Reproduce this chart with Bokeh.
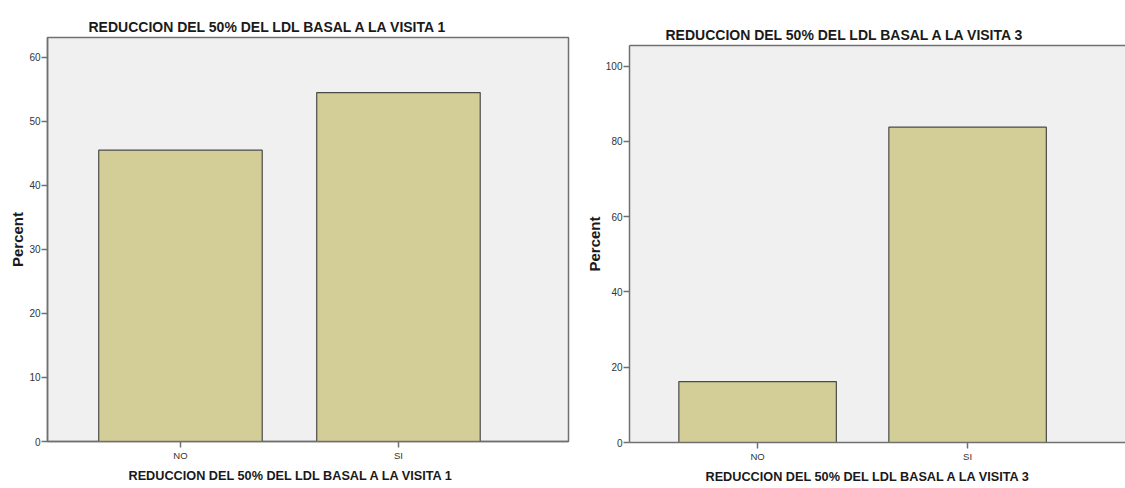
from bokeh.plotting import figure
from bokeh.models import Range1d, FixedTicker, Title, LinearAxis
from bokeh.layouts import row
from bokeh.embed import file_html
from bokeh.resources import INLINE

# ---- data ----
categories = ["NO", "SI"]
visit1_percent = [45.5, 54.5]
visit3_percent = [16.2, 83.8]
visit1_title = "REDUCCION DEL 50% DEL LDL BASAL A LA VISITA 1"
visit3_title = "REDUCCION DEL 50% DEL LDL BASAL A LA VISITA 3"
visit1_yticks = [0, 10, 20, 30, 40, 50, 60]
visit3_yticks = [0, 20, 40, 60, 80, 100]
y_label = "Percent"

FONT = "Liberation Sans"
BAR_FILL = "#D3CE97"
BAR_LINE = "#4a4a48"
FRAME_BG = "#F0F0F0"
AXIS_COL = "#707070"


def make_chart(values, title, yticks, y_end, x_start, x_end, width, height,
               bl, br, bt, bb, title_offset, xlabel_offset, top_axis):
    xs = list(range(1, len(categories) + 1))
    p = figure(width=width, height=height,
               x_range=Range1d(x_start, x_end), y_range=Range1d(0, y_end),
               output_backend="svg", toolbar_location=None,
               min_border_left=bl, min_border_right=br,
               min_border_top=bt, min_border_bottom=bb)
    p.frame_align = False
    p.background_fill_color = FRAME_BG
    p.border_fill_color = "white"
    p.xgrid.visible = False
    p.ygrid.visible = False

    p.vbar(x=xs, top=values, width=0.75, bottom=0,
           fill_color=BAR_FILL, line_color=BAR_LINE, line_width=1.2)

    # title
    p.title.text = title
    p.title.align = "left"
    p.title.offset = title_offset
    p.title.text_font = FONT
    p.title.text_font_size = "14px"
    p.title.text_font_style = "bold"
    p.title.text_color = "#1a1a1a"
    p.title.standoff = 5

    # x axis
    xa = p.xaxis[0]
    xa.ticker = FixedTicker(ticks=xs)
    xa.major_label_overrides = {x: c for x, c in zip(xs, categories)}
    xa.minor_tick_line_color = None
    xa.major_tick_out = 6
    xa.major_tick_in = 0
    xa.major_label_standoff = 2
    xa.major_label_text_font = FONT
    xa.major_label_text_font_size = "9.5px"
    xa.major_label_text_color = "#333333"
    xa.axis_line_color = AXIS_COL
    xa.axis_line_width = 1.5
    xa.major_tick_line_color = AXIS_COL
    xa.major_tick_line_width = 1.5

    # x label as title below
    xl = Title(text=title, align="left", offset=xlabel_offset,
               text_font=FONT, text_font_size="12.7px",
               text_font_style="bold", text_color="#1a1a1a", standoff=6)
    p.add_layout(xl, "below")

    # y axis
    ya = p.yaxis[0]
    ya.ticker = FixedTicker(ticks=yticks)
    ya.minor_tick_line_color = None
    ya.major_tick_out = 6
    ya.major_tick_in = 0
    ya.major_label_standoff = 1
    ya.major_label_text_font = FONT
    ya.major_label_text_font_size = "10px"
    ya.major_label_text_color = "#333333"
    ya.axis_line_color = AXIS_COL
    ya.axis_line_width = 1.5
    ya.major_tick_line_color = AXIS_COL
    ya.major_tick_line_width = 1.5
    ya.axis_label = y_label
    ya.axis_label_text_font = FONT
    ya.axis_label_text_font_size = "15px"
    ya.axis_label_text_font_style = "bold"
    ya.axis_label_text_color = "#1a1a1a"
    ya.axis_label_standoff = 0

    if top_axis:
        p.outline_line_color = None
        ta = LinearAxis(ticker=FixedTicker(ticks=[]),
                        axis_line_color=AXIS_COL, axis_line_width=1.5,
                        major_tick_line_color=None, minor_tick_line_color=None,
                        major_label_text_font_size="0px")
        p.add_layout(ta, "above")
    else:
        p.outline_line_color = AXIS_COL
        p.outline_line_width = 1.5
        p.outline_line_alpha = 1.0
    return p


# left: frame x 47..568, y 37..441 ; right: frame x 629..1125, y 45..442
p1 = make_chart(visit1_percent, visit1_title, visit1_yticks, 63.1, 0.39, 2.78,
                580, 488, 47, 12, 37, 47, 41, 81, False)
p3 = make_chart(visit3_percent, visit3_title, visit3_yticks, 105.5, 0.39, 2.752,
                545, 488, 49, 0, 45, 46, 36, 76, True)

layout = row(p1, p3)
open("out.html", "w").write(file_html(layout, INLINE))
